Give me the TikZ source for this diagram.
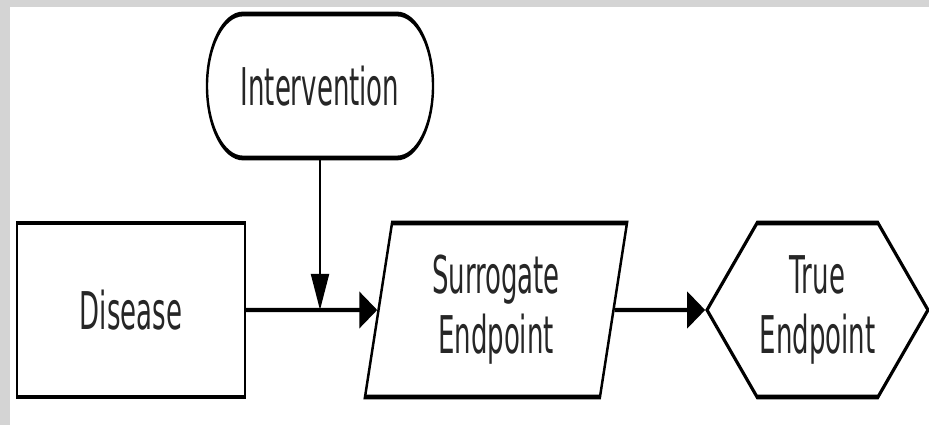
\documentclass[tikz,border=0pt]{standalone}
\usepackage{fontspec}
\setmainfont{DejaVu Sans}
\usetikzlibrary{arrows.meta,shapes.geometric,shapes.misc,shapes.symbols}

\begin{document}
\begin{tikzpicture}[x=1pt,y=1pt,
        box/.style={draw,line width=2.4pt,fill=white,text=black!85,
            font=\fontsize{26}{30}\selectfont,align=center,
            minimum height=87pt,inner sep=0pt},
        flow/.style={line width=2.1pt,-{Triangle[length=18pt,width=18pt]}}]
        % frame
        \useasboundingbox (0,0) rectangle (929,425);
        \fill[black!17] (0,418) rectangle (929,425);
        \fill[black!17] (0,0) rectangle (10,425);

        % flow chart (stretched upwards)
        \begin{scope}[transform canvas={yscale=2}]
            \node[box,rounded rectangle,minimum width=226pt,minimum height=72pt] (iv) at (320,169.5) {Intervention};
            \node[box,rectangle,minimum width=228pt] (dis) at (131,57.5) {Disease};
            \node[box,trapezium,trapezium left angle=63.7,trapezium right angle=116.3,
                trapezium stretches body,minimum width=262pt] (sur) at (496,57.5) {Surrogate\\Endpoint};
            \node[box,signal,signal to=west and east,signal pointer angle=82,
                minimum width=221pt] (tru) at (817.5,57.5) {True\\Endpoint};

            % arrows
            \coordinate (jn) at (iv.south |- dis.east);
            \draw[flow] (dis) -- (sur);
            \draw[flow] (iv) -- (jn);
            \draw[flow] (sur) -- (tru);
        \end{scope}
\end{tikzpicture}
\end{document}
